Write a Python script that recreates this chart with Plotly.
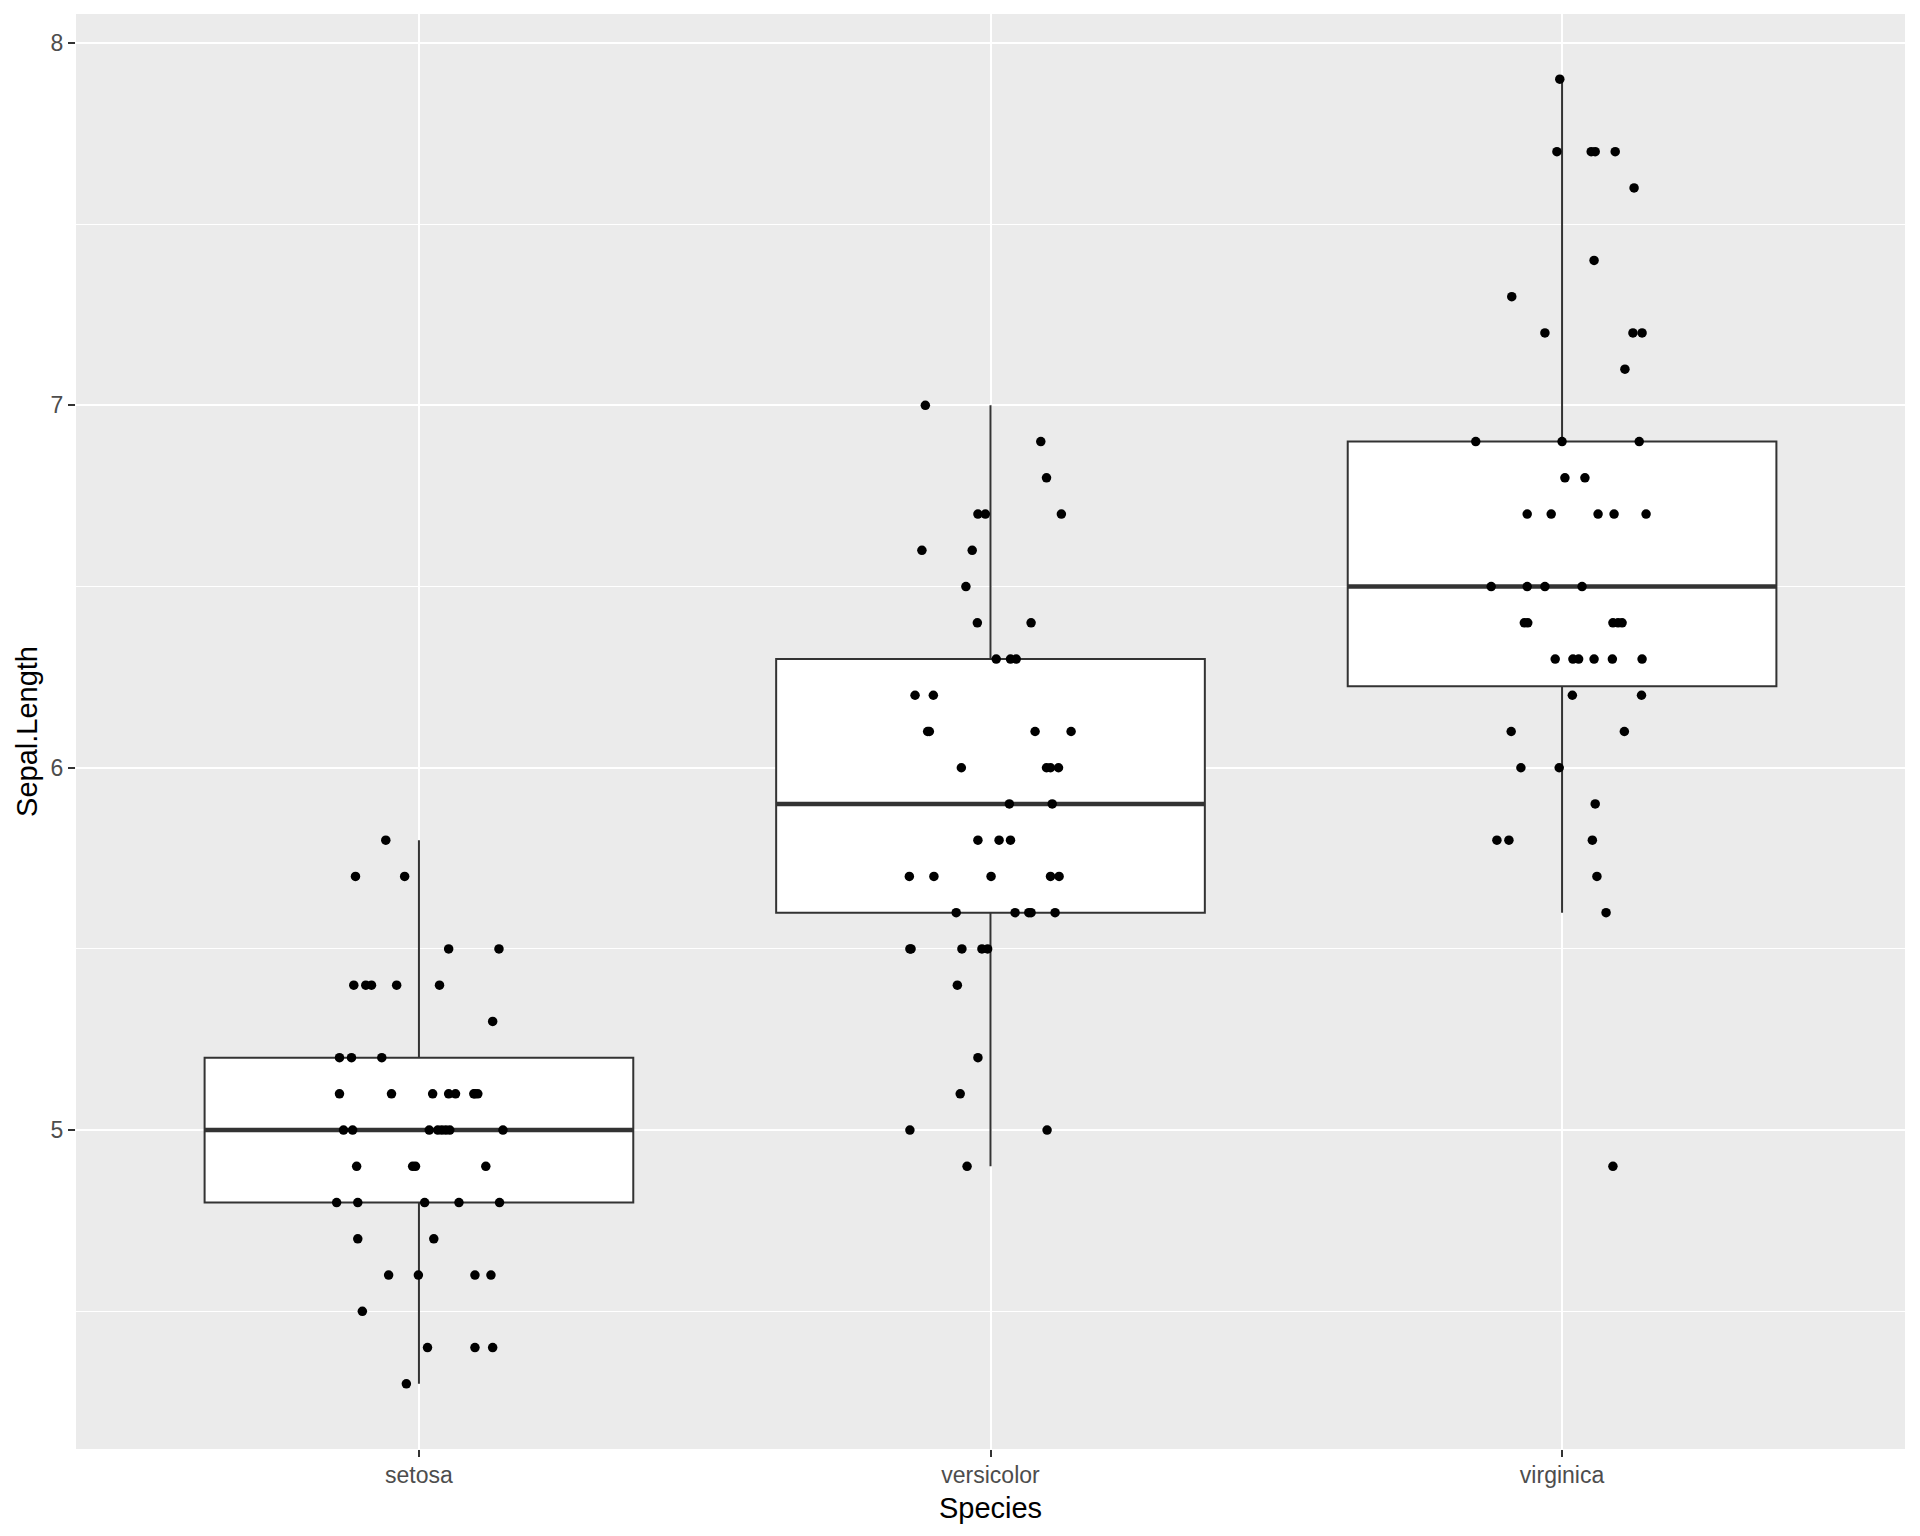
"""iris Sepal.Length 상자그림 + 지터 점 (ggplot 스타일) — Plotly 재현."""

import numpy as np
import plotly.graph_objects as go

species = ["setosa", "versicolor", "virginica"]

# Sepal.Length 값과 지터 x 오프셋 (범주 단위)
setosa_y = [5.8, 5.7, 5.7, 5.5, 5.5, 5.4, 5.4, 5.4, 5.4, 5.4, 5.3, 5.2, 5.2, 5.2,
            5.1, 5.1, 5.1, 5.1, 5.1, 5.1, 5.1, 5.1,
            5.0, 5.0, 5.0, 5.0, 5.0, 5.0, 5.0, 5.0,
            4.9, 4.9, 4.9, 4.9, 4.8, 4.8, 4.8, 4.8, 4.8, 4.7, 4.7,
            4.6, 4.6, 4.6, 4.6, 4.5, 4.4, 4.4, 4.4, 4.3]
setosa_dx = [-0.058, -0.111, -0.025, 0.052, 0.140, -0.114, -0.093, -0.083, -0.039, 0.036, 0.129,
             -0.139, -0.118, -0.065,
             -0.139, -0.048, 0.024, 0.052, 0.064, 0.096, 0.103, 0.098,
             -0.132, -0.116, 0.018, 0.033, 0.040, 0.047, 0.054, 0.147,
             -0.109, -0.011, -0.006, 0.117, -0.144, -0.107, 0.010, 0.070, 0.141, -0.107, 0.026,
             -0.053, -0.001, 0.098, 0.126, -0.099, 0.015, 0.098, 0.129, -0.022]

versicolor_y = [7.0, 6.9, 6.8, 6.7, 6.7, 6.7, 6.6, 6.6, 6.5, 6.4, 6.4, 6.3, 6.3, 6.3,
                6.2, 6.2, 6.1, 6.1, 6.1, 6.1, 6.0, 6.0, 6.0, 6.0, 5.9, 5.9, 5.8, 5.8, 5.8,
                5.7, 5.7, 5.7, 5.7, 5.7, 5.6, 5.6, 5.6, 5.6, 5.6,
                5.5, 5.5, 5.5, 5.5, 5.5, 5.4, 5.2, 5.1, 5.0, 5.0, 4.9]
versicolor_dx = [-0.114, 0.088, 0.098, -0.022, -0.009, 0.124, -0.120, -0.032, -0.043, -0.023, 0.071,
                 0.010, 0.035, 0.045, -0.132, -0.100, -0.110, -0.107, 0.078, 0.141,
                 -0.051, 0.098, 0.105, 0.119, 0.033, 0.108, -0.022, 0.015, 0.035,
                 -0.142, -0.099, 0.001, 0.105, 0.120, -0.060, 0.043, 0.067, 0.071, 0.113,
                 -0.141, -0.139, -0.050, -0.015, -0.005, -0.058, -0.022, -0.053, -0.141, 0.099, -0.041]

virginica_y = [7.9, 7.7, 7.7, 7.7, 7.7, 7.6, 7.4, 7.3, 7.2, 7.2, 7.2, 7.1, 6.9, 6.9, 6.9,
               6.8, 6.8, 6.7, 6.7, 6.7, 6.7, 6.7, 6.5, 6.5, 6.5, 6.5,
               6.4, 6.4, 6.4, 6.4, 6.4, 6.3, 6.3, 6.3, 6.3, 6.3, 6.3,
               6.2, 6.2, 6.1, 6.1, 6.0, 6.0, 5.9, 5.8, 5.8, 5.8, 5.7, 5.6, 4.9]
virginica_dx = [-0.004, -0.009, 0.051, 0.058, 0.093, 0.126, 0.056, -0.088, -0.030, 0.124, 0.140,
                0.110, -0.151, 0.000, 0.135, 0.005, 0.040, -0.061, -0.019, 0.063, 0.091, 0.147,
                -0.124, -0.061, -0.030, 0.035, -0.066, -0.060, 0.089, 0.098, 0.105,
                -0.012, 0.019, 0.029, 0.056, 0.088, 0.140, 0.018, 0.139, -0.089, 0.109,
                -0.072, -0.005, 0.058, -0.114, -0.093, 0.053, 0.061, 0.077, 0.089]

groups_y = [setosa_y, versicolor_y, virginica_y]
groups_dx = [setosa_dx, versicolor_dx, virginica_dx]

BOX_W = 0.75
FONT = "Liberation Sans, Arial, sans-serif"

# ggplot 방식(type 7) 사분위수, 1.5 IQR 수염
q1, med, q3, lo, hi = [], [], [], [], []
for ys in groups_y:
    a = np.array(ys)
    a1, m, a3 = np.quantile(a, [0.25, 0.5, 0.75])
    iqr = a3 - a1
    q1.append(a1)
    med.append(m)
    q3.append(a3)
    lo.append(a[a >= a1 - 1.5 * iqr].min())
    hi.append(a[a <= a3 + 1.5 * iqr].max())

pos = list(range(len(species)))

fig = go.Figure()
fig.add_trace(go.Box(
    x=pos, q1=q1, median=med, q3=q3, lowerfence=lo, upperfence=hi,
    width=BOX_W, whiskerwidth=0, boxpoints=False,
    fillcolor="white", line=dict(color="#333333", width=2),
    showlegend=False,
))

# 굵은 중앙값 선
mx, my = [], []
for i, m in zip(pos, med):
    mx += [i - BOX_W / 2, i + BOX_W / 2, None]
    my += [m, m, None]
fig.add_trace(go.Scatter(x=mx, y=my, mode="lines",
                         line=dict(color="#333333", width=4.5), showlegend=False))

# 지터 점
px, py = [], []
for i, ys, dxs in zip(pos, groups_y, groups_dx):
    px += [i + d for d in dxs]
    py += ys
fig.add_trace(go.Scatter(x=px, y=py, mode="markers",
                         marker=dict(color="black", size=9.5, line=dict(width=0)),
                         showlegend=False))

# 페이지 body 여백(8px)을 감안한 크기/여백
fig.update_layout(
    width=1912, height=1528,
    margin=dict(l=68, r=15, t=6, b=87),
    paper_bgcolor="white", plot_bgcolor="#EBEBEB",
    font=dict(family=FONT, color="#4D4D4D", size=23),
)
fig.update_xaxes(
    range=[-0.6, 2.6], tickvals=pos, ticktext=species,
    showgrid=True, gridcolor="white", gridwidth=2.3, zeroline=False,
    ticks="outside", ticklen=7, tickwidth=2, tickcolor="#333333",
    tickfont=dict(size=23, color="#4D4D4D"), ticklabelstandoff=-2,
    title=dict(text="Species", font=dict(size=29, color="black"), standoff=11),
)
fig.update_yaxes(
    range=[4.12, 8.08], tickvals=[5, 6, 7, 8],
    showgrid=True, gridcolor="white", gridwidth=2.3, zeroline=False,
    ticks="outside", ticklen=7, tickwidth=2, tickcolor="#333333",
    tickfont=dict(size=23, color="#4D4D4D"),
    minor=dict(tickvals=[4.5, 5.5, 6.5, 7.5], showgrid=True, gridcolor="white", gridwidth=1.2, ticks=""),
    title=dict(text="Sepal.Length", font=dict(size=29, color="black"), standoff=4),
)

fig.write_html("out.html")
